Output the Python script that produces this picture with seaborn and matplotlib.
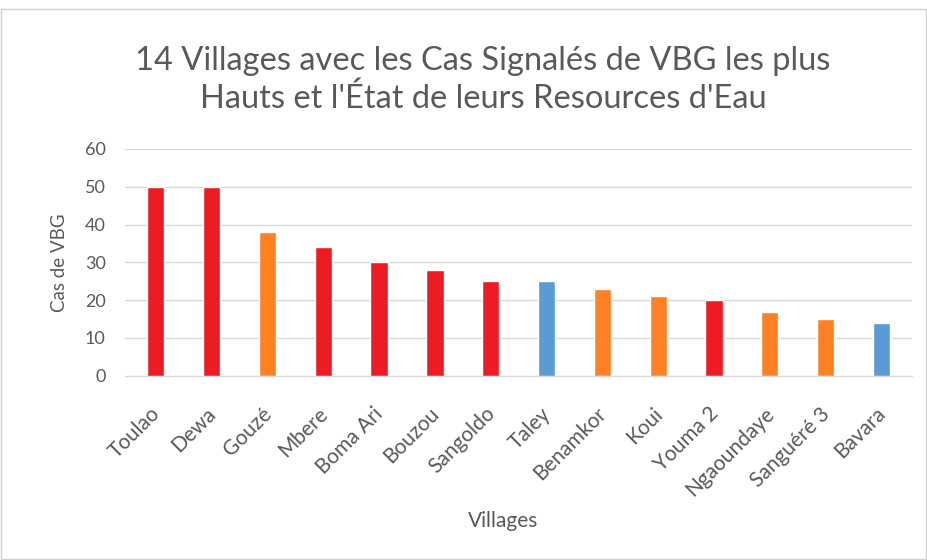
import matplotlib
matplotlib.use("Agg")
import matplotlib.pyplot as plt
import matplotlib.transforms as mtransforms
import seaborn as sns
import pandas as pd
from matplotlib.patches import Rectangle

villages = ["Toulao", "Dewa", "Gouzé", "Mbere", "Boma Ari", "Bouzou", "Sangoldo",
            "Taley", "Benamkor", "Koui", "Youma 2", "Ngaoundaye", "Sanguéré 3", "Bavara"]
cas_vbg = [50, 50, 38, 34, 30, 28, 25, 25, 23, 21, 20, 17, 15, 14]
etat_eau = ["rouge", "rouge", "orange", "rouge", "rouge", "rouge", "rouge",
            "bleu", "orange", "orange", "rouge", "orange", "orange", "bleu"]
palette = {"rouge": "#ED1C24", "orange": "#FF8124", "bleu": "#5B9BD5"}
yticks = [0, 10, 20, 30, 40, 50, 60]

df = pd.DataFrame({"Village": villages, "Cas": cas_vbg, "Etat": etat_eau})

sns.set_style("white")
plt.rcParams["font.family"] = ["Lato", "DejaVu Sans"]
txt = "#595959"

fig = plt.figure(figsize=(9.27, 5.6), dpi=100)
ax = fig.add_axes([0.135, 0.329, 0.849, 0.405])

sns.barplot(data=df, x="Village", y="Cas", hue="Etat", palette=palette,
            dodge=False, width=0.31, legend=False, ax=ax, saturation=1)

ax.set_ylim(0, 60)
ax.set_yticks(yticks)
ax.set_xlim(-0.55, len(villages) - 0.45)
ax.yaxis.grid(True, color="#D9D9D9", linewidth=1)
ax.set_axisbelow(True)
for s in ["top", "right", "left"]:
    ax.spines[s].set_visible(False)
ax.spines["bottom"].set_color("#D9D9D9")
ax.tick_params(axis="both", length=0, colors=txt)
ax.tick_params(axis="y", pad=14, labelsize=13)
ax.tick_params(axis="x", pad=20, labelsize=15)
offset = mtransforms.ScaledTranslation(-6 / 100, 0, fig.dpi_scale_trans)
for lab in ax.get_xticklabels():
    lab.set_rotation(45)
    lab.set_ha("right")
    lab.set_rotation_mode("anchor")
    lab.set_transform(lab.get_transform() + offset)

ax.set_xlabel("Villages", fontsize=15, color=txt, labelpad=8, x=0.48)
ax.set_ylabel("Cas de VBG", fontsize=13.5, color=txt, labelpad=12)

fig.text(0.521, 0.857, "14 Villages avec les Cas Signalés de VBG les plus\nHauts et l'État de leurs Resources d'Eau",
         ha="center", va="center", fontsize=23.5, color=txt, linespacing=1.3)

fig.patches.append(Rectangle((0.001, 0.001), 0.998, 0.983, transform=fig.transFigure,
                             fill=False, edgecolor="#D0D0D0", linewidth=1))

fig.savefig("out.png", dpi=100)
